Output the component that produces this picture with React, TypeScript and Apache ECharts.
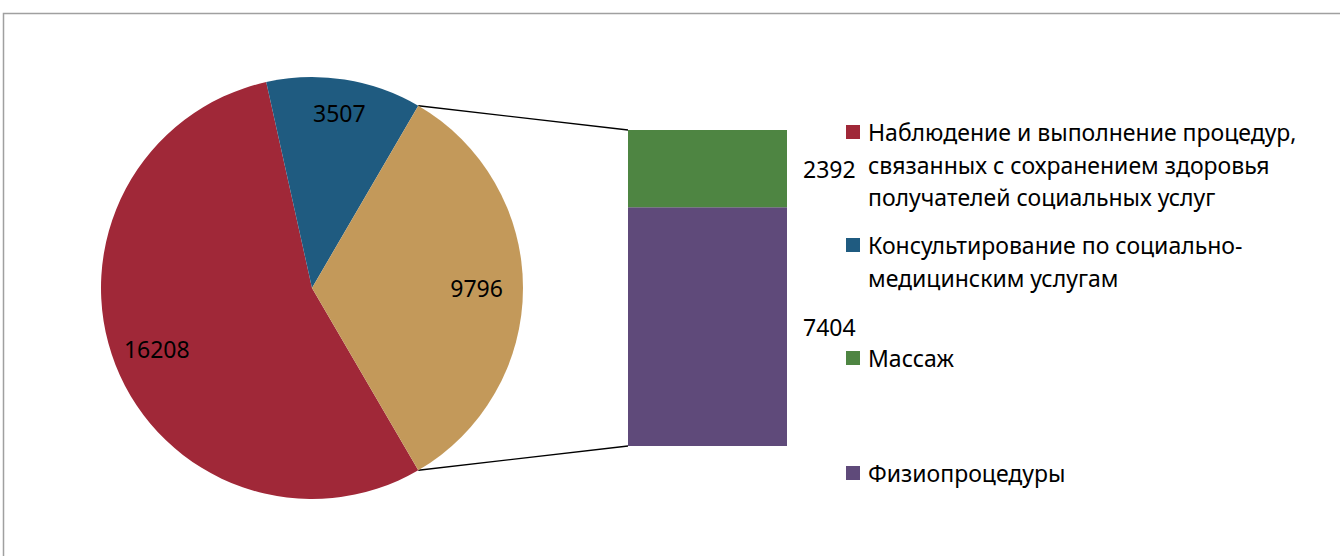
import React, { useEffect, useRef } from "react";
import * as echarts from "echarts";

// ---- data ----
const pieNames = [
  "Наблюдение и выполнение процедур,\nсвязанных с сохранением здоровья\nполучателей социальных услуг",
  "Консультирование по социально-\nмедицинским услугам",
  "Другой",
];
const pieValues = [16208, 3507, 9796];
const barNames = ["Массаж", "Физиопроцедуры"];
const barValues = [2392, 7404];
const legendNames = [pieNames[0], pieNames[1], barNames[0], barNames[1]];

// ---- styles ----
const pieColors = ["#A02838", "#1F5B80", "#C3995A"];
const barColors = ["#4E8542", "#5F4A7A"];
const legendColors = [pieColors[0], pieColors[1], barColors[0], barColors[1]];
const FONT = "Noto Sans";
const FS = 23;
const CX = 312;
const CY = 288;
const R = 211;
const labelRadiusFactor = [0.79, 0.84, 0.78];
const BAR_LEFT = 628;
const BAR_TOP = 130;
const BAR_W = 159;
const BAR_H = 316;
const LEGEND_X = 846;
const LEGEND_FIRST_LINE_Y = [132, 245, 358, 473];
const LINE_H = 32.5;

export default function App() {
  const ref = useRef<HTMLDivElement>(null);
  useEffect(() => {
    const chart = echarts.init(ref.current!, null, { renderer: "svg" });
    const total = pieValues.reduce((a, b) => a + b, 0);
    const otherAngle = (pieValues[2] / total) * 360;
    const startAngle = -otherAngle / 2;
    const mids: number[] = [];
    let cum = 0;
    pieValues.forEach((v) => {
      const s = startAngle - (cum / total) * 360;
      mids.push(s - (v / total) * 180);
      cum += v;
    });
    const rad = (d: number) => (d * Math.PI) / 180;
    const topPt = [CX + R * Math.cos(rad(-startAngle)), CY - R * Math.sin(rad(-startAngle))];
    const botPt = [CX + R * Math.cos(rad(startAngle)), CY - R * Math.sin(rad(startAngle))];
    const barTotal = barValues.reduce((a, b) => a + b, 0);

    const graphics: any[] = [
      {
        type: "rect",
        shape: { x: 3.5, y: 13.5, width: 1400, height: 600 },
        style: { fill: "none", stroke: "#a0a0a0", lineWidth: 1.5 },
        silent: true,
      },
      {
        type: "line",
        shape: { x1: topPt[0], y1: topPt[1], x2: BAR_LEFT, y2: BAR_TOP },
        style: { stroke: "#000", lineWidth: 1.3 },
      },
      {
        type: "line",
        shape: { x1: botPt[0], y1: botPt[1], x2: BAR_LEFT, y2: BAR_TOP + BAR_H },
        style: { stroke: "#000", lineWidth: 1.3 },
      },
    ];
    legendNames.forEach((name, i) => {
      const y0 = LEGEND_FIRST_LINE_Y[i];
      graphics.push({
        type: "rect",
        shape: { x: LEGEND_X, y: y0 - 7, width: 14, height: 14 },
        style: { fill: legendColors[i] },
      });
      graphics.push({
        type: "text",
        x: LEGEND_X + 22,
        y: y0 - LINE_H / 2,
        style: {
          text: name,
          font: `${FS}px "${FONT}"`,
          lineHeight: LINE_H,
          fill: "#000",
          verticalAlign: "top",
          align: "left",
        },
      });
    });

    chart.setOption({
      animation: false,
      backgroundColor: "#fff",
      grid: { left: BAR_LEFT, top: BAR_TOP, width: BAR_W, height: BAR_H, containLabel: false },
      xAxis: { type: "category", data: ["Другой"], show: false },
      yAxis: { type: "value", min: 0, max: barTotal, show: false },
      graphic: graphics,
      series: [
        {
          type: "pie",
          center: [CX, CY],
          radius: [0, R],
          startAngle,
          clockwise: true,
          avoidLabelOverlap: false,
          itemStyle: { borderWidth: 0 },
          data: pieValues.map((v, i) => ({
            name: pieNames[i],
            value: v,
            itemStyle: { color: pieColors[i] },
          })),
          label: {
            show: true,
            position: "inside",
            formatter: "{c}",
            color: "#000",
            fontSize: FS,
            fontFamily: FONT,
          },
          labelLine: { show: false },
          labelLayout: (params: any) => {
            const i = params.dataIndex;
            const r = R * labelRadiusFactor[i];
            return {
              x: CX + r * Math.cos(rad(mids[i])),
              y: CY - r * Math.sin(rad(mids[i])),
              align: "center",
              verticalAlign: "middle",
            };
          },
        },
        {
          type: "bar",
          name: barNames[1],
          stack: "other",
          barWidth: "100%",
          data: [barValues[1]],
          itemStyle: { color: barColors[1] },
          label: {
            show: true,
            position: "right",
            distance: 16,
            color: "#000",
            fontSize: FS,
            fontFamily: FONT,
          },
        },
        {
          type: "bar",
          name: barNames[0],
          stack: "other",
          barWidth: "100%",
          data: [barValues[0]],
          itemStyle: { color: barColors[0] },
          label: {
            show: true,
            position: "right",
            distance: 16,
            color: "#000",
            fontSize: FS,
            fontFamily: FONT,
          },
        },
      ],
    });
    return () => chart.dispose();
  }, []);
  return (
    <div
      ref={ref}
      style={{ position: "fixed", left: 0, top: 0, width: 1340, height: 556 }}
    />
  );
}
